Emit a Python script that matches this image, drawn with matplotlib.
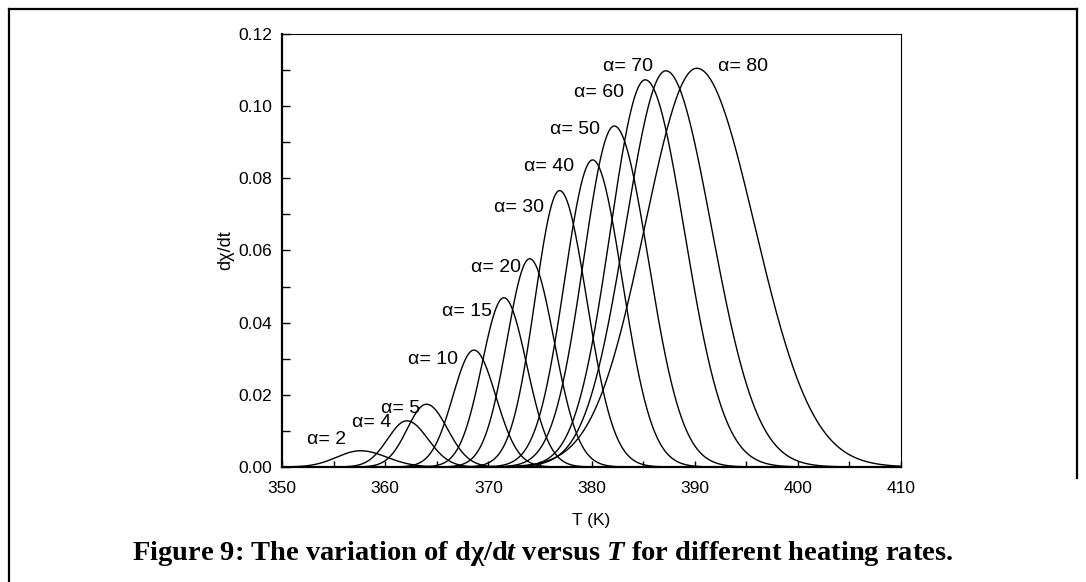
import matplotlib
matplotlib.use("Agg")

import numpy as np
import matplotlib.pyplot as plt
from matplotlib.lines import Line2D
from matplotlib.ticker import MultipleLocator, FormatStrFormatter

# -------------------------------
# Data
# -------------------------------
rates = [2, 4, 5, 10, 15, 20, 30, 40, 50, 60, 70, 80]
peak_T = [357.6, 362.1, 364.0, 368.6, 371.5, 374.0, 376.9, 380.1, 382.2, 385.2, 387.2, 390.2]
peak_h = [0.0045, 0.0128, 0.0174, 0.0324, 0.0469, 0.0577, 0.0766, 0.0851, 0.0945, 0.1073, 0.1098, 0.1105]
# half widths at half maximum (K), left and right of the peak
hwhm_left = [2.7, 2.2, 2.2, 2.4, 2.5, 2.6, 2.8, 3.2, 3.5, 4.0, 4.6, 5.9]
hwhm_right = [3.0, 2.4, 2.4, 2.5, 2.6, 2.8, 3.1, 3.4, 3.9, 4.5, 5.2, 6.6]

# label anchor points (data coords)
label_T = [354.3, 358.7, 361.5, 364.6, 367.9, 370.7, 373.0, 375.9, 378.4, 380.7, 383.5, 394.7]
label_y = [0.0075, 0.0122, 0.0161, 0.0299, 0.0432, 0.0552, 0.0718, 0.0834, 0.0934, 0.1039, 0.1109, 0.1109]

# -------------------------------
# Fonts
# -------------------------------
plt.rcParams["font.family"] = ["Liberation Sans", "DejaVu Sans"]
plt.rcParams["mathtext.fontset"] = "custom"
plt.rcParams["mathtext.rm"] = "Liberation Serif:bold"
plt.rcParams["mathtext.it"] = "Liberation Serif:italic:bold"
plt.rcParams["mathtext.bf"] = "Liberation Serif:bold"

fig = plt.figure(figsize=(10.86, 5.82), dpi=100)
ax = fig.add_axes([0.2597, 0.1976, 0.5700, 0.7440])

# -------------------------------
# Curves
# -------------------------------
T = np.linspace(350, 410, 1501)
for Tp, h, hl, hr in zip(peak_T, peak_h, hwhm_left, hwhm_right):
    sig = np.where(T < Tp, hl, hr) / np.sqrt(2 * np.log(2))
    y = h * np.exp(-0.5 * ((T - Tp) / sig) ** 2)
    ax.plot(T, y, color="black", lw=1.0)

for r, lx, ly in zip(rates, label_T, label_y):
    ax.text(lx, ly, f"\u03b1= {r}", fontsize=14, ha="center", va="center")

# -------------------------------
# Axes styling
# -------------------------------
ax.set_xlim(350, 410)
ax.set_ylim(0, 0.12)
ax.xaxis.set_major_locator(MultipleLocator(10))
ax.xaxis.set_minor_locator(MultipleLocator(5))
ax.yaxis.set_major_locator(MultipleLocator(0.02))
ax.yaxis.set_minor_locator(MultipleLocator(0.01))
ax.yaxis.set_major_formatter(FormatStrFormatter("%.2f"))
ax.tick_params(axis="both", which="both", direction="in", labelsize=12.5, width=1.0)
ax.tick_params(axis="y", which="both", length=6, pad=7)
ax.tick_params(axis="x", which="both", length=4.5, pad=10)

for side in ["left", "bottom"]:
    ax.spines[side].set_linewidth(1.6)
for side in ["top", "right"]:
    ax.spines[side].set_linewidth(0.8)

ax.set_xlabel("T (K)", fontsize=12.5, labelpad=12)
ax.set_ylabel("d\u03c7/dt", fontsize=13, labelpad=3)

# -------------------------------
# Caption and outer frame
# -------------------------------
fig.text(0.5, 1 - 553 / 582,
         r"Figure 9: The variation of d$\mathbf{\chi}$/d$t$ versus $T$ for different heating rates.",
         fontsize=20.5, fontweight="bold", family="Liberation Serif",
         ha="center", va="center")

W, H = 1086.0, 582.0
frame = dict(transform=fig.transFigure, color="black", lw=1.6)
fig.add_artist(Line2D([9 / W, 9 / W], [0, 1 - 9 / H], **frame))
fig.add_artist(Line2D([9 / W, 1077 / W], [1 - 9 / H, 1 - 9 / H], **frame))
fig.add_artist(Line2D([1077 / W, 1077 / W], [1 - 9 / H, 1 - 478 / H], **frame))

fig.savefig("out.png", dpi=100)
